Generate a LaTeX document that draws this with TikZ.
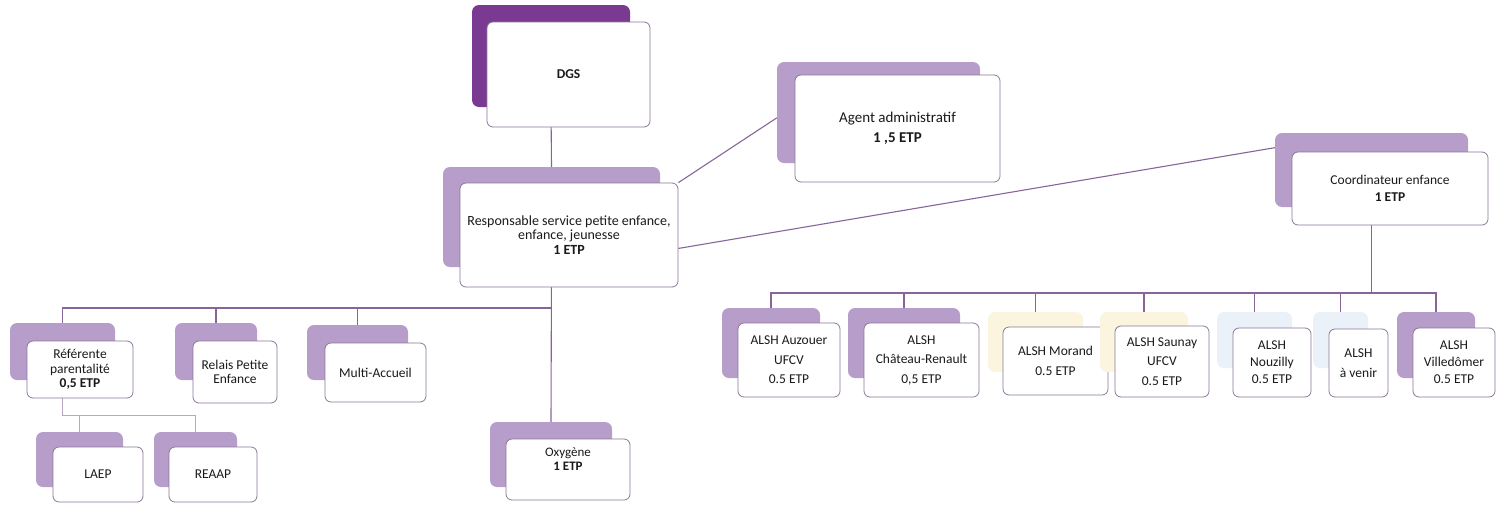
\documentclass[tikz,border=0pt]{standalone}
\usepackage{fontspec}
\setmainfont{Carlito}
\usetikzlibrary{backgrounds}
\definecolor{lilac}{HTML}{B79DCA}
\definecolor{darkpurple}{HTML}{7A3A92}
\definecolor{paleyellow}{HTML}{FBF4DE}
\definecolor{paleblue}{HTML}{EAF1F8}
\definecolor{framecol}{HTML}{8C7898}
\definecolor{linecol}{HTML}{86669A}
\definecolor{lightline}{HTML}{B8A6C2}
\definecolor{txt}{HTML}{1A1A1A}
\tikzset{
  back/.style={rounded corners=7pt, fill=lilac, draw=none, inner sep=0pt},
  front/.style={rounded corners=6pt, fill=white, draw=framecol, line width=0.8pt,
    inner sep=1pt, align=center, text=txt},
  fagent/.style={font=\fontsize{15}{20}\selectfont},
  fresp/.style={font=\fontsize{14}{14.5}\selectfont},
  fcoord/.style={font=\fontsize{13.5}{17}\selectfont},
  fleft/.style={font=\fontsize{13.5}{14.5}\selectfont},
  falsh/.style={font=\fontsize{13.5}{19.5}\selectfont},
  fnarrow/.style={font=\fontsize{13.5}{17}\selectfont},
  foxy/.style={font=\fontsize{13}{14}\selectfont},
  link/.style={draw=linecol, line width=1.1pt},
  thinlink/.style={draw=lightline, line width=1pt},
}
\begin{document}
\begin{tikzpicture}[x=1pt,y=-1pt]
\useasboundingbox (0,0) rectangle (1502,504);

% ---------- top level ----------
\node[back, fill=darkpurple, minimum width=158, minimum height=102] (dgs) at (551,56) {};
\node[front, fcoord, minimum width=163, minimum height=105] (dgsT) at (568.5,74.5) {\textbf{DGS}};

\node[back, minimum width=217, minimum height=100] (resp) at (551.5,217) {};
\node[front, fresp, minimum width=218, minimum height=104] (respT) at (569,235)
  {Responsable service petite enfance,\\ enfance, jeunesse\\ \textbf{1 ETP}};

\node[back, minimum width=203, minimum height=101] (agent) at (878.5,112.5) {};
\node[front, fagent, minimum width=205, minimum height=107] (agentT) at (897.5,128.5)
  {Agent administratif\\ \textbf{1 ,5 ETP}};

\node[back, minimum width=193, minimum height=74] (coord) at (1371.5,170) {};
\node[front, fcoord, minimum width=196, minimum height=73] (coordT) at (1390,188.5)
  {Coordinateur enfance\\ \textbf{1 ETP}};

% ---------- left branch ----------
\node[back, minimum width=105, minimum height=57] (ref) at (62.5,351.5) {};
\node[front, fleft, minimum width=106, minimum height=57] (refT) at (80,369.5)
  {Référente\\ parentalité\\ \textbf{0,5 ETP}};

\node[back, minimum width=82, minimum height=57] (relais) at (216,351.5) {};
\node[front, fleft, minimum width=84, minimum height=62] (relaisT) at (235,372)
  {Relais Petite\\ Enfance};

\node[back, minimum width=101, minimum height=55] (multi) at (357.5,352.5) {};
\node[front, fleft, minimum width=101, minimum height=59] (multiT) at (375.5,372.5)
  {Multi-Accueil};

\node[back, minimum width=87, minimum height=55] (laep) at (79.5,459.5) {};
\node[front, fleft, minimum width=90, minimum height=55] (laepT) at (98,474.5) {LAEP};

\node[back, minimum width=83, minimum height=55] (reaap) at (195.5,459.5) {};
\node[front, fleft, minimum width=88, minimum height=55] (reaapT) at (213,474.5) {REAAP};

\node[back, minimum width=122, minimum height=65] (oxy) at (551,454.5) {};
\node[front, foxy, minimum width=124, minimum height=61, text depth=20pt] (oxyT) at (568,469.5)
  {Oxygène\\ \textbf{1 ETP}};

% ---------- ALSH ----------
\node[back, minimum width=98, minimum height=70] (auz) at (771,343) {};
\node[front, falsh, minimum width=102, minimum height=74] (auzT) at (789,360)
  {ALSH Auzouer\\ UFCV\\ 0.5 ETP};

\node[back, minimum width=112, minimum height=70] (chat) at (904,343) {};
\node[front, falsh, minimum width=115, minimum height=74] (chatT) at (921.5,360)
  {ALSH\\ Château-Renault\\ 0,5 ETP};

\node[back, fill=paleyellow, minimum width=95, minimum height=60] (mor) at (1035.5,342) {};
\node[front, falsh, minimum width=105, minimum height=68] (morT) at (1055.5,361)
  {ALSH Morand\\ 0.5 ETP};

\node[back, fill=paleyellow, minimum width=88, minimum height=60] (sau) at (1144,342) {};
\node[front, falsh, minimum width=94, minimum height=71] (sauT) at (1162,361.5)
  {ALSH Saunay\\ UFCV\\ 0.5 ETP};

\node[back, fill=paleblue, minimum width=75, minimum height=56] (nou) at (1254.5,340) {};
\node[front, fnarrow, minimum width=78, minimum height=69] (nouT) at (1272,362.5)
  {ALSH\\ Nouzilly\\ 0.5 ETP};

\node[back, fill=paleblue, minimum width=55, minimum height=56] (ven) at (1340.5,340) {};
\node[front, falsh, minimum width=59, minimum height=68] (venT) at (1358.5,363)
  {ALSH\\ à venir};

\node[back, minimum width=78, minimum height=66] (vil) at (1436,345) {};
\node[front, fnarrow, minimum width=82, minimum height=69] (vilT) at (1454,362.5)
  {ALSH\\ Villedômer\\ 0.5 ETP};

% ---------- connectors ----------
\coordinate (lbus) at (551,308);
\coordinate (pbus) at (62.5,415);
\coordinate (abus) at (1371.5,293);
\begin{pgfonlayer}{background}
  \draw[link] (dgs.south) -- (resp.north);
  \draw[link] (resp.south) -- (oxy.north);
  \draw[link] (ref.north) |- (lbus);
  \draw[link] (relais.north) |- (lbus);
  \draw[link] (multi.north) |- (lbus);
  \draw[thinlink] (ref.south) -- (pbus) -| (reaap.north);
  \draw[thinlink] (laep.north) |- (pbus);
  \draw[link] (respT.north east) -- (agent.183);
  \draw[link] (respT.-7) -- (coord.167);
  \draw[link] (coord.south) -- (abus);
  \draw[link] (auz.north) |- (abus);
  \draw[link] (chat.north) |- (abus);
  \draw[link] (mor.north) |- (abus);
  \draw[link] (sau.north) |- (abus);
  \draw[link] (nou.north) |- (abus);
  \draw[link] (ven.north) |- (abus);
  \draw[link] (vil.north) |- (abus);
\end{pgfonlayer}
\end{tikzpicture}
\end{document}
